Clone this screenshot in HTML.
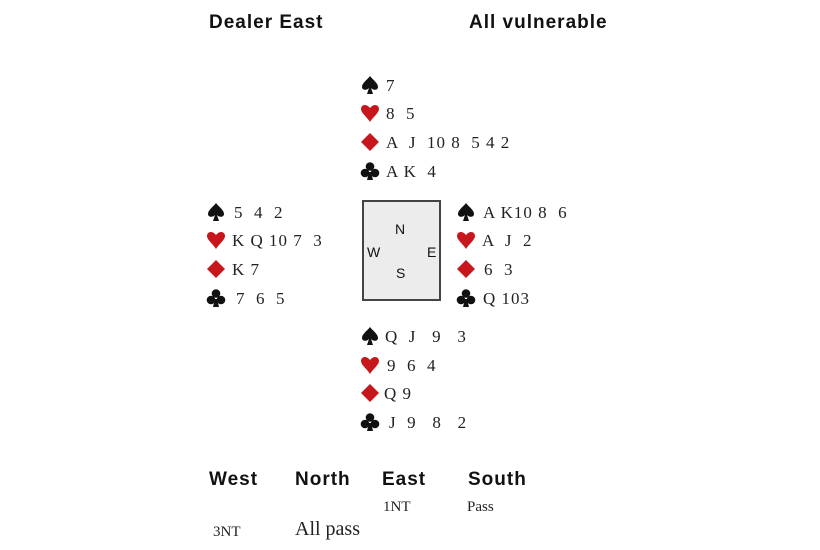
<!DOCTYPE html>
<html><head><meta charset="utf-8"><style>
body{margin:0;background:#fff;}
#c{position:relative;width:820px;height:550px;overflow:hidden;background:#fff;}
.t{position:absolute;font-family:"Liberation Serif",serif;font-size:17px;letter-spacing:1px;color:#222;line-height:20px;white-space:pre;}
.s{position:absolute;width:20px;height:20px;}
.h{position:absolute;font-family:"Liberation Sans",sans-serif;font-weight:bold;font-size:19px;letter-spacing:1px;color:#111;line-height:22px;white-space:pre;}
#box{position:absolute;left:362px;top:200px;width:75px;height:97px;border:2px solid #444;background:#ececec;}
.d{position:absolute;font-family:"Liberation Sans",sans-serif;font-size:14px;color:#111;line-height:16px;}
</style></head><body>
<svg width="0" height="0" style="position:absolute">
<defs>
<symbol id="sp" viewBox="0 0 20 20"><path d="M10 1 C7 5 2 8 2 12 C2 15 6 16 9 13 L7 19 L13 19 L11 13 C14 16 18 15 18 12 C18 8 13 5 10 1Z" fill="#111"/></symbol>
<symbol id="he" viewBox="0 0 20 20"><path d="M10 19 C7 14 1 10 1 6 C1 2 6 0 10 5 C14 0 19 2 19 6 C19 10 13 14 10 19Z" fill="#c8161d"/></symbol>
<symbol id="di" viewBox="0 0 20 20"><path d="M10 1 L19 10 L10 19 L1 10Z" fill="#c8161d"/></symbol>
<symbol id="cl" viewBox="0 0 20 20"><circle cx="10" cy="5.5" r="4.3" fill="#111"/><circle cx="5" cy="12" r="4.3" fill="#111"/><circle cx="15" cy="12" r="4.3" fill="#111"/><path d="M9 11 L7 19 L13 19 L11 11Z" fill="#111"/></symbol>
</defs></svg>
<div id="c">
<div class="h" style="left:209px;top:12px">Dealer East</div>
<div class="h" style="left:469px;top:12px">All vulnerable</div>

<svg class="s" style="left:360px;top:75px"><use href="#sp"/></svg><div class="t" style="left:386px;top:76px">7</div>
<svg class="s" style="left:360px;top:103px"><use href="#he"/></svg><div class="t" style="left:386px;top:104px">8  5</div>
<svg class="s" style="left:360px;top:132px"><use href="#di"/></svg><div class="t" style="left:386px;top:133px">A  J  10 8  5 4 2</div>
<svg class="s" style="left:360px;top:161px"><use href="#cl"/></svg><div class="t" style="left:386px;top:162px">A K  4</div>

<svg class="s" style="left:206px;top:202px"><use href="#sp"/></svg><div class="t" style="left:234px;top:203px">5  4  2</div>
<svg class="s" style="left:206px;top:230px"><use href="#he"/></svg><div class="t" style="left:232px;top:231px">K Q 10 7  3</div>
<svg class="s" style="left:206px;top:259px"><use href="#di"/></svg><div class="t" style="left:232px;top:260px">K 7</div>
<svg class="s" style="left:206px;top:288px"><use href="#cl"/></svg><div class="t" style="left:236px;top:289px">7  6  5</div>

<div id="box"></div>
<div class="d" style="left:395px;top:221px">N</div>
<div class="d" style="left:367px;top:244px">W</div>
<div class="d" style="left:427px;top:244px">E</div>
<div class="d" style="left:396px;top:265px">S</div>

<svg class="s" style="left:456px;top:202px"><use href="#sp"/></svg><div class="t" style="left:483px;top:203px">A K10 8  6</div>
<svg class="s" style="left:456px;top:230px"><use href="#he"/></svg><div class="t" style="left:482px;top:231px">A  J  2</div>
<svg class="s" style="left:456px;top:259px"><use href="#di"/></svg><div class="t" style="left:484px;top:260px">6  3</div>
<svg class="s" style="left:456px;top:288px"><use href="#cl"/></svg><div class="t" style="left:483px;top:289px">Q 103</div>

<svg class="s" style="left:360px;top:326px"><use href="#sp"/></svg><div class="t" style="left:385px;top:327px">Q  J   9   3</div>
<svg class="s" style="left:360px;top:355px"><use href="#he"/></svg><div class="t" style="left:387px;top:356px">9  6  4</div>
<svg class="s" style="left:360px;top:383px"><use href="#di"/></svg><div class="t" style="left:384px;top:384px">Q 9</div>
<svg class="s" style="left:360px;top:412px"><use href="#cl"/></svg><div class="t" style="left:389px;top:413px">J  9   8   2</div>

<div class="h" style="left:209px;top:469px">West</div>
<div class="h" style="left:295px;top:469px">North</div>
<div class="h" style="left:382px;top:469px">East</div>
<div class="h" style="left:468px;top:469px">South</div>
<div class="t" style="left:383px;top:497px;font-size:15px;letter-spacing:0">1NT</div>
<div class="t" style="left:467px;top:497px;font-size:15px;letter-spacing:0">Pass</div>
<div class="t" style="left:213px;top:522px;font-size:15px;letter-spacing:0">3NT</div>
<div class="t" style="left:295px;top:519px;font-size:20px;letter-spacing:0">All pass</div>
</div></body></html>
